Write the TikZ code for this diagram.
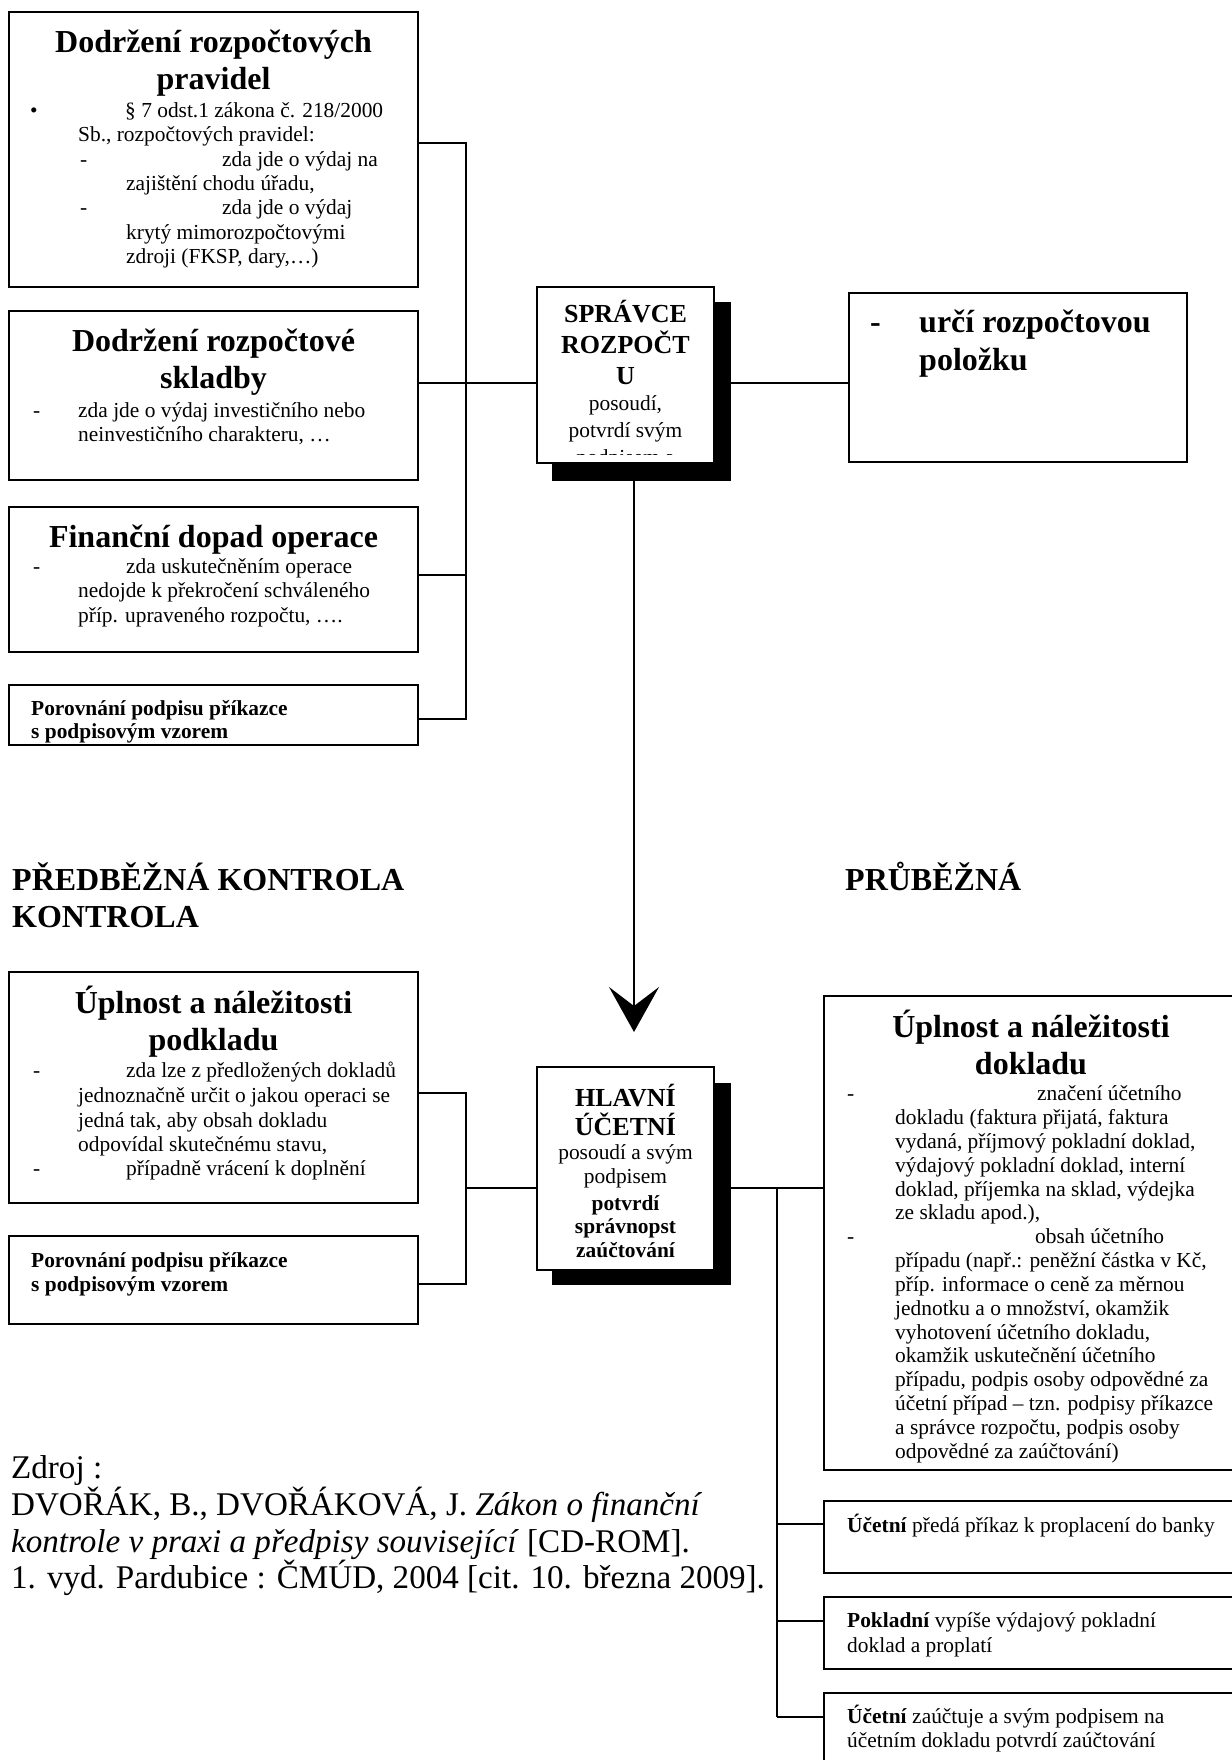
\documentclass[tikz,border=0pt]{standalone}
\usepackage{fontspec}
\setmainfont{Liberation Serif}
\usetikzlibrary{arrows.meta}
\newcommand\fbody{\fontsize{21.4}{24}\selectfont}
\newcommand\ftitle{\fontsize{32}{37}\selectfont\bfseries}
\newcommand\fcaps{\fontsize{26}{30}\selectfont\bfseries}
\newcommand\fsrc{\fontsize{33.1}{37}\selectfont}
% box: name, x0, y0, x1, y1
\newcommand\rbox[6][box]{\node[#1,minimum width={#5-#3},minimum height={#6-#4}] (#2) at (#3,#4) {};}
% text line: style, name, x, y, text
\newcommand\tl[5]{\node[#1] (#2) at (#3,#4) {#5};}
\begin{document}
\begin{tikzpicture}[x=1pt,y=-1pt,
  box/.style={draw,line width=2.5pt,fill=white,inner sep=0pt,outer sep=0pt,anchor=north west},
  shadowbox/.style={fill=black,inner sep=0pt,outer sep=0pt,anchor=north west},
  conn/.style={line width=1.8pt},
  body/.style={inner sep=0pt,anchor=base west,font=\fbody},
  bodyc/.style={inner sep=0pt,anchor=base,font=\fbody},
  boldb/.style={inner sep=0pt,anchor=base west,font=\fbody\bfseries},
  boldc/.style={inner sep=0pt,anchor=base,font=\fbody\bfseries},
  title/.style={inner sep=0pt,anchor=base,font=\ftitle},
  titlew/.style={inner sep=0pt,anchor=base west,font=\ftitle},
  caps/.style={inner sep=0pt,anchor=base,font=\fcaps},
  src/.style={inner sep=0pt,anchor=base west,font=\fsrc}]
\fill[white] (0,0) rectangle (1231,1760);
\useasboundingbox (0,0) rectangle (1231,1760);

% ---------- junction coordinates ----------
\coordinate (j1) at (466,143);
\coordinate (jm) at (466,383);
\coordinate (j3) at (466,575);
\coordinate (j4) at (466,719);
\coordinate (j5) at (466,1093);
\coordinate (jh) at (466,1188);
\coordinate (j6) at (466,1284);
\coordinate (k0) at (777,1188);
\coordinate (k1) at (777,1524);
\coordinate (k2) at (777,1621);
\coordinate (k3) at (777,1717);
\coordinate (tip) at (634,1032);

% ---------- left column (top) ----------
\rbox{b1}{9}{12}{418}{287}
\rbox{b2}{9}{311}{418}{480}
\rbox{b3}{9}{507}{418}{652}
\rbox{b4}{9}{685}{418}{745}

\tl{title}{b1t1}{213.5}{53}{Dodržení rozpočtových}
\tl{title}{b1t2}{213.5}{90}{pravidel}
\tl{body}{b1bul}{30}{118}{•}
\tl{body}{b1l1}{125}{118}{§ 7 odst.1 zákona č. 218/2000}
\tl{body}{b1l2}{78}{142}{Sb., rozpočtových pravidel:}
\tl{body}{b1d1}{80}{167}{-}
\tl{body}{b1l3}{222}{167}{zda jde o výdaj na}
\tl{body}{b1l4}{126}{191}{zajištění chodu úřadu,}
\tl{body}{b1d2}{80}{215}{-}
\tl{body}{b1l5}{222}{215}{zda jde o výdaj}
\tl{body}{b1l6}{126}{240}{krytý mimorozpočtovými}
\tl{body}{b1l7}{126}{264}{zdroji (FKSP, dary,…)}

\tl{title}{b2t1}{213.5}{352}{Dodržení rozpočtové}
\tl{title}{b2t2}{213.5}{388}{skladby}
\tl{body}{b2d1}{33}{417}{-}
\tl{body}{b2l1}{78}{417}{zda jde o výdaj investičního nebo}
\tl{body}{b2l2}{78}{441}{neinvestičního charakteru, …}

\tl{title}{b3t1}{213.5}{547}{Finanční dopad operace}
\tl{body}{b3d1}{33}{573}{-}
\tl{body}{b3l1}{126}{573}{zda uskutečněním operace}
\tl{body}{b3l2}{78}{597}{nedojde k překročení schváleného}
\tl{body}{b3l3}{78}{622}{příp. upraveného rozpočtu, ….}

\tl{boldb}{b4l1}{31}{715}{Porovnání podpisu příkazce}
\tl{boldb}{b4l2}{31}{738}{s podpisovým vzorem}

% ---------- SPRÁVCE ROZPOČTU ----------
\rbox[shadowbox]{s1sh}{552}{302}{731}{481}
\rbox{s1}{537}{287}{714}{463}
\begin{scope}
\clip (537,287) rectangle (714,454);
\tl{caps}{s1l1}{625.5}{323}{SPRÁVCE}
\tl{caps}{s1l2}{625.5}{353}{ROZPOČT}
\tl{caps}{s1l3}{625.5}{384}{U}
\tl{bodyc}{s1l4}{625.5}{410}{posoudí,}
\tl{bodyc}{s1l5}{625.5}{437}{potvrdí svým}
\tl{bodyc}{s1l6}{625.5}{464}{podpisem a}
\end{scope}

\rbox{r1}{849}{293}{1187}{462}
\tl{titlew}{r1d}{870}{333}{-}
\tl{titlew}{r1l1}{919}{333}{určí rozpočtovou}
\tl{titlew}{r1l2}{919}{370}{položku}

% ---------- headings ----------
\tl{titlew}{hd1}{12}{890}{PŘEDBĚŽNÁ KONTROLA}
\tl{titlew}{hd2}{12}{927}{KONTROLA}
\tl{titlew}{hd3}{845}{890}{PRŮBĚŽNÁ}

% ---------- left column (bottom) ----------
\rbox{b5}{9}{972}{418}{1203}
\rbox{b6}{9}{1236}{418}{1324}
\tl{title}{b5t1}{213.5}{1013}{Úplnost a náležitosti}
\tl{title}{b5t2}{213.5}{1050}{podkladu}
\tl{body}{b5d1}{33}{1077}{-}
\tl{body}{b5l1}{126}{1077}{zda lze z předložených dokladů}
\tl{body}{b5l2}{78}{1102}{jednoznačně určit o jakou operaci se}
\tl{body}{b5l3}{78}{1127}{jedná tak, aby obsah dokladu}
\tl{body}{b5l4}{78}{1151}{odpovídal skutečnému stavu,}
\tl{body}{b5d2}{33}{1175}{-}
\tl{body}{b5l5}{126}{1175}{případně vrácení k doplnění}
\tl{boldb}{b6l1}{31}{1267}{Porovnání podpisu příkazce}
\tl{boldb}{b6l2}{31}{1291}{s podpisovým vzorem}

% ---------- HLAVNÍ ÚČETNÍ ----------
\rbox[shadowbox]{h1sh}{552}{1083}{731}{1285}
\rbox{h1}{537}{1067}{714}{1270}
\tl{caps}{h1l1}{625.5}{1106}{HLAVNÍ}
\tl{caps}{h1l2}{625.5}{1135}{ÚČETNÍ}
\tl{bodyc}{h1l3}{625.5}{1159}{posoudí a svým}
\tl{bodyc}{h1l4}{625.5}{1183}{podpisem}
\tl{boldc}{h1l5}{625.5}{1210}{potvrdí}
\tl{boldc}{h1l6}{625.5}{1233}{správnopst}
\tl{boldc}{h1l7}{625.5}{1257}{zaúčtování}

% ---------- right column (bottom) ----------
\rbox{r2}{824}{996}{1240}{1470}
\begin{scope}
\clip (824,996) rectangle (1240,1463);
\tl{title}{r2t1}{1031}{1037}{Úplnost a náležitosti}
\tl{title}{r2t2}{1031}{1074}{dokladu}
\tl{body}{r2d1}{847}{1100}{-}
\tl{body}{r2l1}{1037}{1100}{značení účetního}
\tl{body}{r2l2}{895}{1124}{dokladu (faktura přijatá, faktura}
\tl{body}{r2l3}{895}{1148}{vydaná, příjmový pokladní doklad,}
\tl{body}{r2l4}{895}{1172}{výdajový pokladní doklad, interní}
\tl{body}{r2l5}{895}{1196}{doklad, příjemka na sklad, výdejka}
\tl{body}{r2l6}{895}{1219}{ze skladu apod.),}
\tl{body}{r2d2}{847}{1243}{-}
\tl{body}{r2l7}{1035}{1243}{obsah účetního}
\tl{body}{r2l8}{895}{1267}{případu (např.: peněžní částka v Kč,}
\tl{body}{r2l9}{895}{1291}{příp. informace o ceně za měrnou}
\tl{body}{r2l10}{895}{1315}{jednotku a o množství, okamžik}
\tl{body}{r2l11}{895}{1339}{vyhotovení účetního dokladu,}
\tl{body}{r2l12}{895}{1362}{okamžik uskutečnění účetního}
\tl{body}{r2l13}{895}{1386}{případu, podpis osoby odpovědné za}
\tl{body}{r2l14}{895}{1410}{účetní případ – tzn. podpisy příkazce}
\tl{body}{r2l15}{895}{1434}{a správce rozpočtu, podpis osoby}
\tl{body}{r2l16}{895}{1458}{odpovědné za zaúčtování)}
\end{scope}

\rbox{r3}{824}{1501}{1240}{1573}
\tl{body}{r3l1}{847}{1532}{\textbf{Účetní} předá příkaz k proplacení do banky}
\rbox{r4}{824}{1597}{1240}{1669}
\tl{body}{r4l1}{847}{1627}{\textbf{Pokladní} vypíše výdajový pokladní}
\tl{body}{r4l2}{847}{1652}{doklad a proplatí}
\rbox{r5}{824}{1693}{1240}{1775}
\tl{body}{r5l1}{847}{1723}{\textbf{Účetní} zaúčtuje a svým podpisem na}
\tl{body}{r5l2}{847}{1747}{účetním dokladu potvrdí zaúčtování}

% ---------- source ----------
\tl{src}{z1}{11}{1478}{Zdroj :}
\tl{src}{z2}{11}{1515}{DVOŘÁK, B., DVOŘÁKOVÁ, J. \textit{Zákon o finanční}}
\tl{src}{z3}{11}{1552}{\textit{kontrole v praxi a předpisy související} [CD-ROM].}
\tl{src}{z4}{11}{1588}{1. vyd. Pardubice : ČMÚD, 2004 [cit. 10. března 2009].}

% ---------- connectors ----------
\draw[conn] (b1.east |- j1) -- (j1) -- (j4) -- (b4.east |- j4);
\draw[conn] (b3.east |- j3) -- (j3);
\draw[conn] (b2.east |- jm) -- (s1.west |- jm);
\draw[conn] (s1.east |- jm) -- (r1.west |- jm);
\draw[conn,-{Stealth[length=45pt,width=50pt,inset=19pt]}] (s1sh.south -| tip) -- (tip);
\draw[conn] (b5.east |- j5) -- (j5) -- (j6) -- (b6.east |- j6);
\draw[conn] (jh) -- (h1.west |- jh);
\draw[conn] (h1.east |- k0) -- (r2.west |- k0);
\draw[conn] (k0) -- (k3);
\draw[conn] (k1) -- (r3.west |- k1);
\draw[conn] (k2) -- (r4.west |- k2);
\draw[conn] (k3) -- (r5.west |- k3);
\end{tikzpicture}
\end{document}
